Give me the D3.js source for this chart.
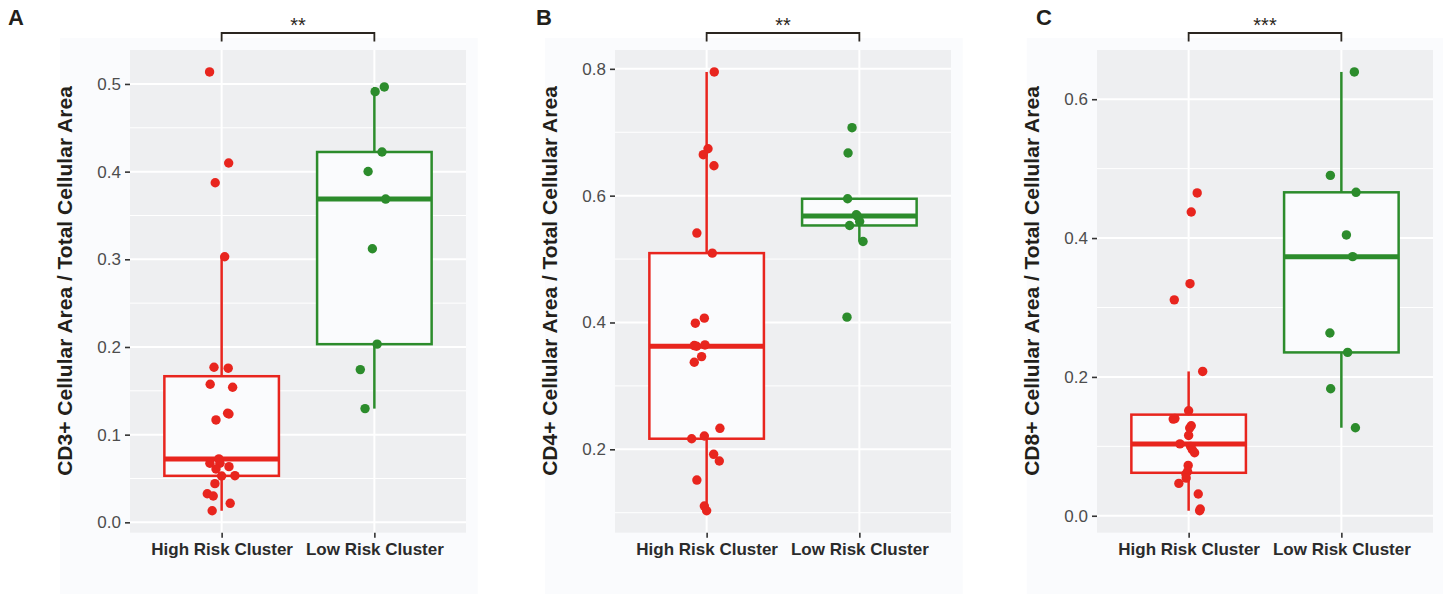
<!DOCTYPE html>
<html>
<head>
<meta charset="utf-8">
<script src="https://cdn.jsdelivr.net/npm/d3@7"></script>
<style>
  body { margin: 0; background: #fff; }
  text { font-family: "Liberation Sans", Arial, sans-serif; }
</style>
</head>
<body>
<div id="chart"></div>
<script>
var groups = ["High Risk Cluster", "Low Risk Cluster"];

// CD3+ (panel A)
var cd3High = [0.5137, 0.4098, 0.3873, 0.3029, 0.1769, 0.1758, 0.1575, 0.1541, 0.1168, 0.1244, 0.1236, 0.0723,
               0.0674, 0.0674, 0.0608, 0.0635, 0.0529, 0.0532, 0.0441, 0.0326, 0.0300, 0.0217, 0.0132];
var cd3HighJit = [-0.079, 0.046, -0.042, 0.020, -0.050, 0.043, -0.075, 0.072, -0.037, 0.039, 0.048, -0.018,
                  -0.077, -0.011, -0.037, 0.048, 0.000, 0.087, -0.044, -0.094, -0.055, 0.056, -0.062];
var cd3Low = [0.4912, 0.4966, 0.4224, 0.4002, 0.3687, 0.3120, 0.2032, 0.1742, 0.1297];
var cd3LowJit = [0.005, 0.065, 0.050, -0.041, 0.074, -0.013, 0.018, -0.092, -0.061];

// CD4+ (panel B)
var cd4High = [0.7951, 0.6740, 0.6646, 0.6472, 0.5410, 0.5094, 0.4068, 0.3989, 0.3636, 0.3626, 0.3646,
               0.3462, 0.3373, 0.2331, 0.2167, 0.2210, 0.1921, 0.1815, 0.1515, 0.1105, 0.1031];
var cd4HighJit = [0.050, 0.009, -0.022, 0.048, -0.064, 0.037, -0.015, -0.074, -0.081, -0.066, -0.011,
                  -0.033, -0.081, 0.087, -0.098, -0.015, 0.046, 0.083, -0.064, -0.015, 0.000];
var cd4Low = [0.7072, 0.6673, 0.5951, 0.5699, 0.5680, 0.5593, 0.5530, 0.5277, 0.4084];
var cd4LowJit = [-0.048, -0.074, -0.077, -0.020, -0.013, 0.002, -0.064, 0.024, -0.081];

// CD8+ (panel C)
var cd8High = [0.4650, 0.4376, 0.3343, 0.3110, 0.2079, 0.1513, 0.1393, 0.1400, 0.1297, 0.1264, 0.1157, 0.1035,
               0.0999, 0.0951, 0.0908, 0.0725, 0.0638, 0.0600, 0.0543, 0.0466, 0.0313, 0.0097, 0.0072];
var cd8HighJit = [0.056, 0.017, 0.009, -0.094, 0.092, 0.000, -0.101, -0.090, 0.017, 0.007, 0.000, -0.057,
                  0.013, 0.024, 0.039, -0.003, -0.007, -0.018, -0.016, -0.064, 0.063, 0.076, 0.072];
var cd8Low = [0.6393, 0.4903, 0.4659, 0.4045, 0.3732, 0.2633, 0.2353, 0.1830, 0.1268];
var cd8LowJit = [0.085, -0.072, 0.096, 0.033, 0.074, -0.075, 0.041, -0.070, 0.092];

var panelLetters = ["A", "B", "C"];
var yTitles = ["CD3+ Cellular Area / Total Cellular Area",
               "CD4+ Cellular Area / Total Cellular Area",
               "CD8+ Cellular Area / Total Cellular Area"];
var yTicks = [[0, 0.1, 0.2, 0.3, 0.4, 0.5], [0.2, 0.4, 0.6, 0.8], [0, 0.2, 0.4, 0.6]];
var yMinor = [[0.05, 0.15, 0.25, 0.35, 0.45], [0.1, 0.3, 0.5, 0.7], [0.1, 0.3, 0.5]];
var stars = ["**", "**", "***"];

var panels = [
  {high: cd3High, highJit: cd3HighJit, low: cd3Low, lowJit: cd3LowJit},
  {high: cd4High, highJit: cd4HighJit, low: cd4Low, lowJit: cd4LowJit},
  {high: cd8High, highJit: cd8HighJit, low: cd8Low, lowJit: cd8LowJit}
];

var colors = ["#e8251e", "#2c8c2c"];

var width = 1443, height = 602;
var svg = d3.select("#chart").append("svg")
    .attr("width", width)
    .attr("height", height);

// layout of the three panels
var bgLeft = [60, 545, 1026.7], bgWidth = [417.7, 417.7, 416.3];
var plotLeft = [130, 615, 1097];
var letterX = [8, 536, 1036];
var plotTop = 50, plotH = 482.7, plotW = 336;

function boxStats(vals) {
  var s = vals.slice().sort(d3.ascending);
  var q1 = d3.quantileSorted(s, 0.25), med = d3.quantileSorted(s, 0.5), q3 = d3.quantileSorted(s, 0.75);
  var iqr = q3 - q1;
  var hi = d3.max(s.filter(function(v) { return v <= q3 + 1.5 * iqr; }));
  var lo = d3.min(s.filter(function(v) { return v >= q1 - 1.5 * iqr; }));
  return {q1: q1, med: med, q3: q3, hi: hi, lo: lo};
}

panels.forEach(function(p, i) {
  // panel background
  svg.append("rect")
    .attr("x", bgLeft[i]).attr("y", 38)
    .attr("width", bgWidth[i]).attr("height", 556)
    .attr("fill", "#fafbfd");

  svg.append("text")
    .attr("x", letterX[i]).attr("y", 25)
    .attr("font-size", 22).attr("font-weight", "bold")
    .attr("fill", "#231f1a")
    .text(panelLetters[i]);

  var g = svg.append("g").attr("transform", "translate(" + plotLeft[i] + "," + plotTop + ")");

  var all = p.high.concat(p.low);
  var ext = d3.extent(all), pad = (ext[1] - ext[0]) * 0.05;
  var y = d3.scaleLinear().domain([ext[0] - pad, ext[1] + pad]).range([plotH, 0]);
  var x = d3.scalePoint().domain(groups).range([0, plotW]).padding(0.6);
  var step = x.step();

  g.append("rect").attr("width", plotW).attr("height", plotH).attr("fill", "#eeeff1");

  g.selectAll(".minor").data(yMinor[i]).enter().append("line")
    .attr("x1", 0).attr("x2", plotW)
    .attr("y1", function(d) { return y(d); }).attr("y2", function(d) { return y(d); })
    .attr("stroke", "#fff").attr("stroke-width", 1);

  g.selectAll(".major").data(yTicks[i]).enter().append("line")
    .attr("x1", 0).attr("x2", plotW)
    .attr("y1", function(d) { return y(d); }).attr("y2", function(d) { return y(d); })
    .attr("stroke", "#fff").attr("stroke-width", 2);

  g.selectAll(".vgrid").data(groups).enter().append("line")
    .attr("x1", function(d) { return x(d); }).attr("x2", function(d) { return x(d); })
    .attr("y1", 0).attr("y2", plotH)
    .attr("stroke", "#fff").attr("stroke-width", 2);

  // axes
  var yAxis = g.append("g").call(d3.axisLeft(y).tickValues(yTicks[i]).tickFormat(d3.format(".1f")).tickSize(5).tickPadding(4));
  yAxis.select(".domain").remove();
  yAxis.selectAll(".tick line").attr("stroke", "#333").attr("stroke-width", 1.6);
  yAxis.selectAll(".tick text").attr("font-size", 17).attr("fill", "#4d4d4d")
    .attr("font-family", "'Liberation Sans', Arial, sans-serif");

  var xAxis = g.append("g").attr("transform", "translate(0," + plotH + ")")
    .call(d3.axisBottom(x).tickSize(5).tickPadding(5));
  xAxis.select(".domain").remove();
  xAxis.selectAll(".tick line").attr("stroke", "#333").attr("stroke-width", 1.6);
  xAxis.selectAll(".tick text").attr("font-size", 17).attr("font-weight", "bold").attr("fill", "#2b2b2b")
    .attr("font-family", "'Liberation Sans', Arial, sans-serif");

  g.append("text")
    .attr("transform", "translate(" + (-58) + "," + 231 + ") rotate(-90)")
    .attr("text-anchor", "middle")
    .attr("font-size", 21).attr("font-weight", "bold").attr("fill", "#231f1a")
    .text(yTitles[i]);

  // boxplots
  var sets = [{vals: p.high, jit: p.highJit}, {vals: p.low, jit: p.lowJit}];
  sets.forEach(function(s, k) {
    var st = boxStats(s.vals), cx = x(groups[k]), bw = step * 0.75;
    var col = colors[k];
    g.append("line").attr("x1", cx).attr("x2", cx).attr("y1", y(st.q3)).attr("y2", y(st.hi))
      .attr("stroke", col).attr("stroke-width", 2.5);
    g.append("line").attr("x1", cx).attr("x2", cx).attr("y1", y(st.q1)).attr("y2", y(st.lo))
      .attr("stroke", col).attr("stroke-width", 2.5);
    g.append("rect")
      .attr("x", cx - bw / 2).attr("y", y(st.q3))
      .attr("width", bw).attr("height", y(st.q1) - y(st.q3))
      .attr("fill", "#fafbfd").attr("stroke", col).attr("stroke-width", 2.5);
    g.append("line").attr("x1", cx - bw / 2).attr("x2", cx + bw / 2)
      .attr("y1", y(st.med)).attr("y2", y(st.med))
      .attr("stroke", col).attr("stroke-width", 5);

    g.selectAll(".pt" + k).data(s.vals).enter().append("circle")
      .attr("cx", function(d, j) { return cx + s.jit[j] * step; })
      .attr("cy", function(d) { return y(d); })
      .attr("r", 4.7)
      .attr("fill", col);
  });

  // significance bracket
  var x1 = x(groups[0]), x2 = x(groups[1]);
  g.append("path")
    .attr("d", "M" + x1 + "," + (41.5 - plotTop) + "V" + (33 - plotTop) + "H" + x2 + "V" + (41.5 - plotTop))
    .attr("fill", "none").attr("stroke", "#2b2620").attr("stroke-width", 1.8);
  g.append("text")
    .attr("x", (x1 + x2) / 2).attr("y", 32 - plotTop)
    .attr("text-anchor", "middle")
    .attr("font-size", 20).attr("fill", "#2b2620")
    .text(stars[i]);
});
</script>
</body>
</html>
